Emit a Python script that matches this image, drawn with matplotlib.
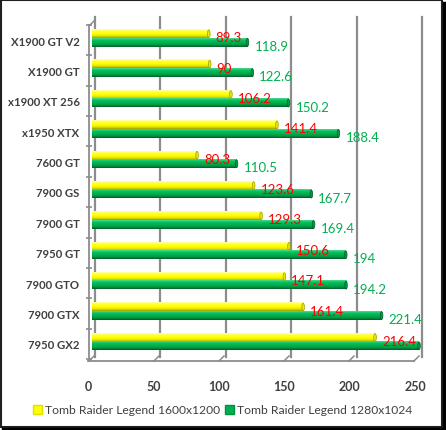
import matplotlib
matplotlib.use('Agg')
import matplotlib.pyplot as plt
import numpy as np
from matplotlib.colors import LinearSegmentedColormap
from matplotlib.patches import Rectangle, Ellipse, Patch
from matplotlib.lines import Line2D
import matplotlib.transforms as mtransforms

plt.rcParams['font.family'] = ['Lato', 'DejaVu Sans']

cards = ['X1900 GT V2', 'X1900 GT', 'x1900 XT 256', 'x1950 XTX', '7600 GT',
         '7900 GS', '7900 GT', '7950 GT', '7900 GTO', '7900 GTX', '7950 GX2']
res_1600 = [89.3, 90, 106.2, 141.4, 80.3, 123.6, 129.3, 150.6, 147.1, 161.4, 216.4]
res_1280 = [118.9, 122.6, 150.2, 188.4, 110.5, 167.7, 169.4, 194, 194.2, 221.4, 250]
series_names = ['Tomb Raider Legend 1600x1200', 'Tomb Raider Legend 1280x1024']
xticks = [0, 50, 100, 150, 200, 250]
xmax = 250

W, H = 446, 431
txt = '#404040'

yellow_cm = LinearSegmentedColormap.from_list('y', ['#ffffb0', '#ffff30', '#ffff00', '#e8e800', '#a0a000'])
green_cm = LinearSegmentedColormap.from_list('g', ['#50d890', '#00c058', '#00b050', '#009a44', '#005c28'])
grad = np.linspace(0, 1, 32).reshape(-1, 1)

fig = plt.figure(figsize=(W / 100, H / 100), dpi=100)
ax = fig.add_axes([92 / W, (H - 360) / H, 327 / W, 334 / H])

def px(x, y):
    return (x / W, 1 - y / H)

def fig_line(p0, p1, **kw):
    (x0, y0), (x1, y1) = px(*p0), px(*p1)
    fig.add_artist(Line2D([x0, x1], [y0, y1], transform=fig.transFigure, **kw))

# back wall gridlines (shifted a little right, 3d look)
shift = mtransforms.ScaledTranslation(3 / 100, 0, fig.dpi_scale_trans)
gtrans = mtransforms.blended_transform_factory(ax.transData, ax.transAxes) + shift
for t in xticks:
    ax.plot([t, t], [2 / 334, 1 + 8 / 334], color='#8c8c8c', lw=1.6,
            transform=gtrans, clip_on=False, zorder=0)

bh = 0.28
off = -0.07
for i in range(len(cards)):
    for val, cm, yc, lc in [(res_1600[i], yellow_cm, i + off - bh / 2, '#ff0000'),
                            (res_1280[i], green_cm, i + off + bh / 2, '#00b050')]:
        y0, y1 = yc - bh / 2, yc + bh / 2
        ax.imshow(grad, cmap=cm, extent=(0, val, y1, y0), aspect='auto',
                  interpolation='bilinear', zorder=2, clip_on=False)
        ax.add_patch(Ellipse((val, yc), 2.0, bh * 0.92, facecolor=cm(0.75),
                             edgecolor=cm(1.0), lw=0.5, zorder=3, clip_on=False))
        if val < xmax:
            ax.annotate(str(val), (val, yc), xytext=(5, -2.5), textcoords='offset points',
                        ha='left', va='center', color=lc, fontsize=9.5, zorder=4)

ax.set_xlim(0, xmax)
ax.set_ylim(len(cards) - 0.5, -0.5)

for s in ['top', 'right', 'bottom']:
    ax.spines[s].set_visible(False)
ax.spines['left'].set_position(('outward', 2))
ax.spines['left'].set_color('#8c8c8c')
ax.spines['left'].set_linewidth(1.3)

ax.set_yticks(range(len(cards)))
ax.set_yticklabels(cards, fontsize=8.2, fontweight='bold', color=txt)
ax.set_yticks(np.arange(-0.5, len(cards), 1), minor=True)
ax.tick_params(axis='y', which='major', length=0, pad=7)
ax.tick_params(axis='y', which='minor', length=4, direction='inout', color='#8c8c8c', width=1.2)

ax.set_xticks(xticks)
ax.set_xticklabels([str(t) for t in xticks], fontsize=9, fontweight='bold', color=txt)
ax.tick_params(axis='x', length=0, pad=15)
lshift = mtransforms.ScaledTranslation(-4 / 100, 0, fig.dpi_scale_trans)
for lab in ax.get_xticklabels():
    lab.set_transform(lab.get_transform() + lshift)

# floor of the 3d plot
gray = '#8c8c8c'
fig_line((88, 362), (414, 362), color=gray, lw=1.3)
for t in xticks:
    xf = 89 + t * 1.3
    fig_line((xf, 362), (xf + 5, 357), color=gray, lw=1.1)
fig_line((90, 26), (95, 21), color=gray, lw=1.1)

handles = [Patch(facecolor='#ffff00', edgecolor='#e0e000'),
           Patch(facecolor='#00b050', edgecolor='#009040')]
fig.legend(handles, series_names, loc='center', bbox_to_anchor=(223 / W, 1 - 411 / H),
           ncol=2, frameon=False, fontsize=8.7, handlelength=0.7, handleheight=0.7,
           handletextpad=0.3, columnspacing=0.4, labelcolor=txt)

# outer frame with shadow
fig.add_artist(Rectangle((1 / W, 3 / H), 441 / W, 427 / H, transform=fig.transFigure,
                         fill=False, edgecolor='#202020', lw=1.5))
fig_line((443.5, 4), (443.5, 431), color='black', lw=2.5)
fig_line((3, 429.5), (446, 429.5), color='black', lw=2.5)

fig.savefig('out.png', dpi=100)
